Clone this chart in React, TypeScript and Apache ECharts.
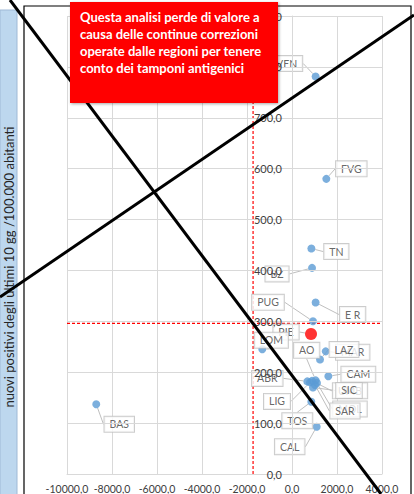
import React, { useEffect, useRef } from "react";
import * as echarts from "echarts";

const regions = ["VEN", "FVG", "TN", "BZ", "E R", "PUG", "PIE", "LOM", "MAR", "LAZ", "AO", "CAM", "ABR", "LIG", "UMB", "SIC", "MOL", "SAR", "TOS", "CAL", "BAS"];
const xValues = [1050, 1525, 860, 890, 1050, 933, 845, -1320, 1498, 1245, 1053, 1615, 680, 800, 890, 933, 1110, 1020, 858, 1098, -8700];
const yValues = [781, 580, 443, 405, 337, 300, 275, 245, 241, 225, 184, 192, 182, 180, 183, 170, 179, 175, 142, 93, 137];
const highlighted = "PIE";
const refX = -1730;
const refY = 296;
const xTicks = { min: -10000, max: 4000, interval: 2000 };
const yTicks = { min: 0, max: 900, interval: 100 };

// label displacement (px) from each point, same order as regions
const labelOffsets: number[][] = [
  [-29, -13], [25, -10], [25, 3], [-35, 6], [37, 12], [-45, -19], [-25, -2], [9, -9],
  [27, 1], [24, -10], [-9, -30], [30, -2], [-40, -3], [-33, 19], [38, 10], [36, 3],
  [33, 26], [30, 26], [-14, 19], [-27, 20], [23, 20],
];

const fmt = (v: number) => v.toFixed(1).replace(".", ",");

export default function App() {
  const ref = useRef<HTMLDivElement>(null);
  useEffect(() => {
    if (!ref.current) return;
    const chart = echarts.init(ref.current, null, { renderer: "svg" });
    const data = regions.map((r, i) => ({
      name: r,
      value: [xValues[i], yValues[i]],
      symbolSize: r === highlighted ? 12 : 8,
      itemStyle: { color: r === highlighted ? "#ff0000" : "#5b9bd5" },
    }));
    const gridLeft = 67;
    const gridRight = 32;
    const plotW = 414 - gridLeft - gridRight;
    const zeroOffset = -((0 - xTicks.min) / (xTicks.max - xTicks.min)) * plotW;
    const dashed = { color: "#ff0000", type: [3, 2], width: 1.2 };
    chart.setOption({
      animation: false,
      backgroundColor: "#ffffff",
      grid: { left: gridLeft, right: gridRight, top: 16, bottom: 16, containLabel: false },
      xAxis: {
        type: "value",
        min: xTicks.min,
        max: xTicks.max,
        interval: xTicks.interval,
        axisLine: { onZero: false, lineStyle: { color: "#d9d9d9" } },
        axisTick: { show: false },
        splitLine: { lineStyle: { color: "#d9d9d9" } },
        axisLabel: { formatter: fmt, color: "#404040", fontSize: 10.5, fontFamily: "Lato", margin: 9 },
      },
      yAxis: {
        type: "value",
        min: yTicks.min,
        max: yTicks.max,
        interval: yTicks.interval,
        position: "left",
        offset: zeroOffset,
        z: 3,
        axisLine: { show: true, onZero: false, lineStyle: { color: "#d9d9d9" } },
        axisTick: { show: false },
        splitLine: { lineStyle: { color: "#d9d9d9" } },
        axisLabel: { formatter: fmt, color: "#404040", fontSize: 11, fontFamily: "Lato", margin: 10 },
      },
      series: [
        {
          type: "line",
          data: [[refX, yTicks.min], [refX, yTicks.max]],
          symbol: "none",
          silent: true,
          z: 1,
          lineStyle: dashed,
          itemStyle: { color: "#ff0000" },
        },
        {
          type: "line",
          data: [[xTicks.min, refY], [xTicks.max, refY]],
          symbol: "none",
          silent: true,
          z: 1,
          lineStyle: dashed,
          itemStyle: { color: "#ff0000" },
        },
        {
          type: "scatter",
          data,
          z: 2,
          label: {
            show: true,
            position: "inside",
            formatter: (p: any) => p.name,
            color: "#404040",
            fontSize: 10.5,
            fontFamily: "Lato",
            backgroundColor: "#ffffff",
            borderColor: "#bfbfbf",
            borderWidth: 1,
            padding: [2, 5],
            lineHeight: 11,
          },
          labelLine: { show: true, lineStyle: { color: "#bfbfbf", width: 1 } },
          labelLayout: (p: any) => ({ dx: labelOffsets[p.dataIndex][0], dy: labelOffsets[p.dataIndex][1] }),
        },
      ],
      graphic: [
        {
          type: "rect",
          shape: { x: 24, y: 6, width: 387, height: 500 },
          style: { fill: "none", stroke: "#000000", lineWidth: 1.2 },
          z: 1,
          silent: true,
        },
        {
          type: "rect",
          shape: { x: 0, y: 10, width: 17, height: 490 },
          style: { fill: "#bdd7ee", stroke: "#9fb9d6", lineWidth: 1 },
          z: 10,
        },
        {
          type: "text",
          x: 9,
          y: 267,
          rotation: Math.PI / 2,
          style: {
            text: "nuovi positivi degli ultimi 10 gg /100.000 abitanti",
            fill: "#262626",
            font: "13px Lato",
            textAlign: "center",
            textVerticalAlign: "middle",
          },
          z: 11,
        },
        {
          type: "line",
          shape: { x1: 10, y1: 0, x2: 381, y2: 494 },
          style: { stroke: "#000000", lineWidth: 3 },
          z: 100,
        },
        {
          type: "line",
          shape: { x1: 0, y1: 297, x2: 414, y2: 15 },
          style: { stroke: "#000000", lineWidth: 3 },
          z: 100,
        },
        {
          type: "rect",
          shape: { x: 70, y: 2, width: 208, height: 101 },
          style: { fill: "#ff0000", shadowBlur: 3, shadowColor: "rgba(0,0,0,0.35)", shadowOffsetX: 1, shadowOffsetY: 1 },
          z: 110,
        },
        {
          type: "text",
          x: 80,
          y: 8,
          style: {
            text: "Questa analisi perde di valore a\ncausa delle continue correzioni\noperate dalle regioni per tenere\nconto dei tamponi antigenici",
            fill: "#ffffff",
            font: "bold 13px Lato",
            lineHeight: 17,
            textAlign: "left",
            textVerticalAlign: "top",
          },
          z: 111,
        },
      ],
    });
    return () => chart.dispose();
  }, []);
  return <div ref={ref} style={{ position: "fixed", left: 0, top: 0, width: 414, height: 494 }} />;
}
